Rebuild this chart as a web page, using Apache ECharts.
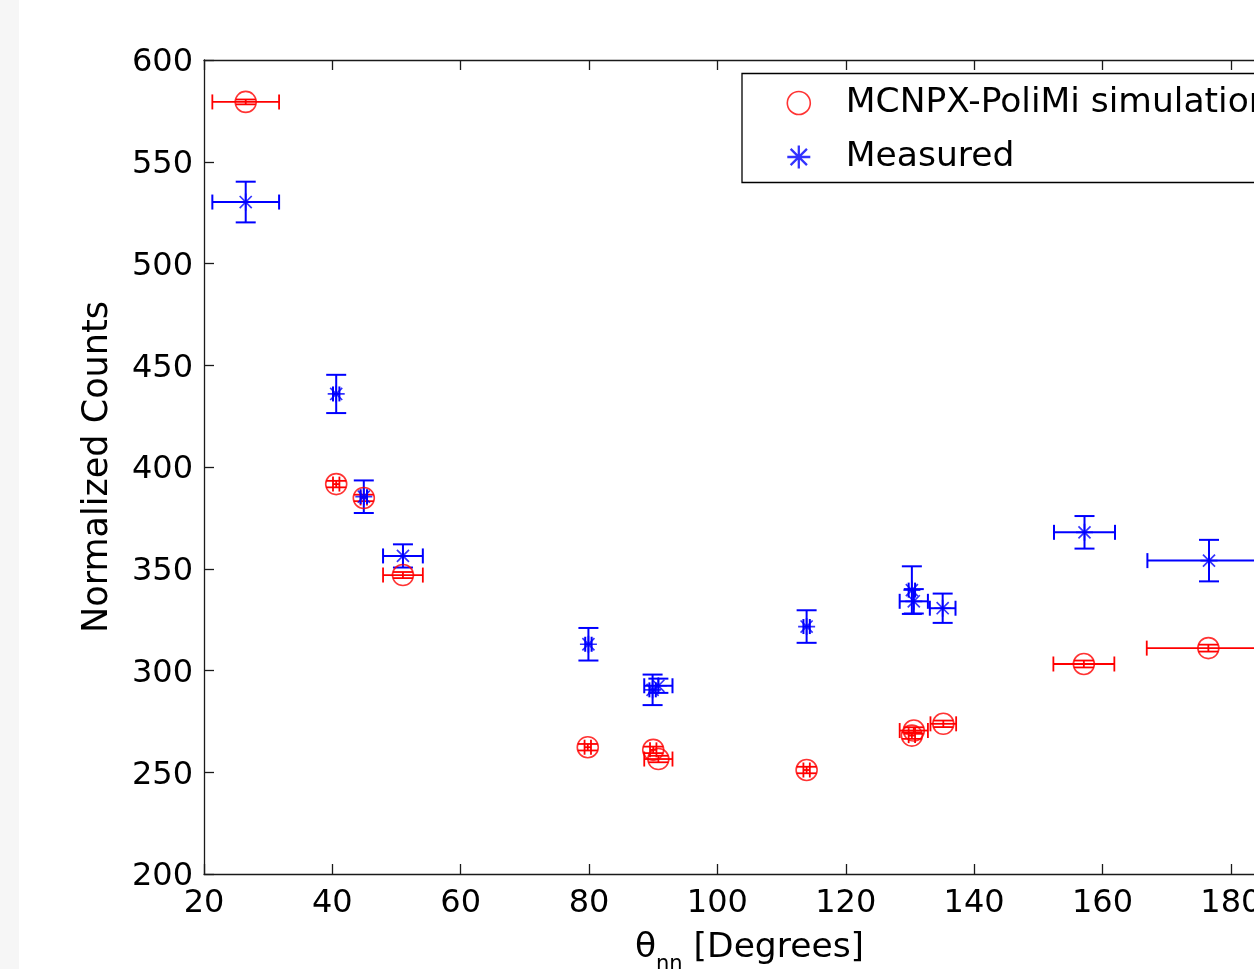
<!DOCTYPE html>
<html>
<head>
<meta charset="utf-8">
<title>Normalized counts vs theta_nn</title>
<script src="https://cdn.jsdelivr.net/npm/echarts@6/dist/echarts.min.js"></script>
<style>
  html, body { margin: 0; padding: 0; background: #fff; }
  #chart { width: 1254px; height: 969px; }
</style>
</head>
<body>
<div id="chart"></div>
<script>
// MCNPX-PoliMi simulation (red circles)
const simTheta = [26.5, 40.6, 44.9, 51.0, 79.8, 90.0, 90.8, 113.9, 130.3, 130.6, 135.2, 157.1, 176.5]
const simCounts = [579.4, 391.6, 384.8, 346.9, 262.3, 261.0, 256.5, 251.1, 268.0, 270.5, 273.8, 303.2, 311.0]
const simThetaErr = [5.2, 0.5, 0.5, 3.1, 0.5, 0.5, 2.2, 0.5, 0.5, 2.2, 2.0, 4.75, 9.6]
const simCountsErr = [1.2, 1.6, 1.6, 1.5, 1.6, 1.6, 1.6, 1.6, 1.6, 1.6, 1.6, 1.7, 1.7]

// Measured (blue asterisks)
const measTheta = [26.5, 40.6, 44.9, 51.0, 79.9, 89.9, 90.8, 113.9, 130.3, 130.6, 135.1, 157.2, 176.6]
const measCounts = [530.2, 435.9, 385.4, 356.3, 312.9, 290.5, 292.5, 321.6, 339.5, 334.0, 330.6, 367.9, 354.0]
const measThetaErr = [5.2, 0.5, 0.5, 3.1, 0.5, 0.5, 2.2, 0.5, 0.5, 2.2, 2.0, 4.75, 9.6]
const measCountsErr = [10, 9.4, 8, 5.7, 8, 7.5, 3.5, 8, 11.7, 6, 7.2, 8, 10.2]

const xTicks = { min: 20, max: 190, interval: 20 }
const yTicks = { min: 200, max: 600, interval: 50 }

const FONT = 'DejaVu Sans'
const AXIS_COLOR = '#1a1a1a'
const RED = '#ff0000'
const BLUE = '#0000ff'

// asterisk made of four bars and a centre dot, all wound the same way
const ASTERISK = 'path://M0 9L20 9L20 11L0 11Z' +
  'M9 0L11 0L11 20L9 20Z' +
  'M3.6 2.2L17.8 16.4L16.4 17.8L2.2 3.6Z' +
  'M16.4 2.2L17.8 3.6L3.6 17.8L2.2 16.4Z' +
  'M7.8 7.8L12.2 7.8L12.2 12.2L7.8 12.2Z'

function zip(xs, ys, dxs, dys) {
  return xs.map((x, i) => [x, ys[i], dxs ? dxs[i] : 0, dys ? dys[i] : 0])
}

function errorBarRenderer(color, width) {
  return function (params, api) {
    const x = api.value(0)
    const y = api.value(1)
    const dx = api.value(2)
    const dy = api.value(3)
    const left = api.coord([x - dx, y])
    const right = api.coord([x + dx, y])
    const top = api.coord([x, y + dy])
    const bottom = api.coord([x, y - dy])
    const capW = 10
    const capH = 7.5
    const seg = (x1, y1, x2, y2) => ({
      type: 'line',
      shape: { x1, y1, x2, y2 },
      style: { stroke: color, lineWidth: width }
    })
    return {
      type: 'group',
      children: [
        seg(left[0], left[1], right[0], right[1]),
        seg(left[0], left[1] - capH, left[0], left[1] + capH),
        seg(right[0], right[1] - capH, right[0], right[1] + capH),
        seg(top[0], top[1], bottom[0], bottom[1]),
        seg(top[0] - capW, top[1], top[0] + capW, top[1]),
        seg(bottom[0] - capW, bottom[1], bottom[0] + capW, bottom[1])
      ]
    }
  }
}

const axisLineStyle = { color: AXIS_COLOR, width: 1.3 }
const labelStyle = { fontFamily: FONT, fontSize: 32, color: '#000' }

const chart = echarts.init(document.getElementById('chart'), null, { renderer: 'canvas' })

const option = {
  animation: false,
  backgroundColor: '#fff',
  graphic: [{
    type: 'rect',
    left: 0,
    top: 0,
    shape: { width: 19, height: 969 },
    style: { fill: '#f6f6f6' },
    silent: true
  }],
  grid: {
    left: 204,
    top: 60,
    width: 1091,
    height: 814,
    outerBoundsMode: 'none'
  },
  legend: {
    orient: 'vertical',
    left: 742,
    top: 73.5,
    padding: [12, 40, 8, 44.5],
    itemGap: 19,
    itemWidth: 23,
    itemHeight: 23,
    backgroundColor: '#fff',
    borderColor: '#000',
    borderWidth: 1.3,
    borderRadius: 0,
    selectedMode: false,
    textStyle: {
      fontFamily: FONT,
      fontSize: 34.5,
      lineHeight: 33,
      color: '#000',
      padding: [0, 0, 0, 30.5]
    },
    data: [
      {
        name: 'MCNPX-PoliMi simulation',
        icon: 'circle',
        itemStyle: { color: 'rgba(0,0,0,0)', borderColor: RED, borderWidth: 1.6 }
      },
      {
        name: 'Measured',
        icon: ASTERISK,
        itemStyle: { color: BLUE, borderWidth: 0 }
      }
    ]
  },
  xAxis: [
    {
      type: 'value',
      position: 'bottom',
      min: xTicks.min,
      max: xTicks.max,
      interval: xTicks.interval,
      axisLine: { show: true, onZero: false, lineStyle: axisLineStyle },
      axisTick: { inside: true, length: 10, lineStyle: axisLineStyle },
      axisLabel: Object.assign({ margin: 14, showMaxLabel: false }, labelStyle),
      splitLine: { show: false },
      name: '{t|θ}{s|nn}{t| [Degrees]}',
      nameLocation: 'middle',
      nameGap: 57,
      nameTextStyle: {
        rich: {
          t: { fontFamily: FONT, fontSize: 34.5, color: '#000', verticalAlign: 'top' },
          s: { fontFamily: FONT, fontSize: 21, color: '#000', verticalAlign: 'top', padding: [23, 0, 0, 0] }
        }
      }
    },
    {
      type: 'value',
      position: 'top',
      min: xTicks.min,
      max: xTicks.max,
      interval: xTicks.interval,
      axisLine: { show: true, onZero: false, lineStyle: axisLineStyle },
      axisTick: { inside: true, length: 10, lineStyle: axisLineStyle },
      axisLabel: { show: false },
      splitLine: { show: false }
    }
  ],
  yAxis: [
    {
      type: 'value',
      position: 'left',
      min: yTicks.min,
      max: yTicks.max,
      interval: yTicks.interval,
      axisLine: { show: true, onZero: false, lineStyle: axisLineStyle },
      axisTick: { inside: true, length: 10, lineStyle: axisLineStyle },
      axisLabel: {
        margin: 11,
        formatter: '{v|{value}}',
        rich: {
          v: Object.assign({ padding: [6, 0, 0, 0] }, labelStyle)
        }
      },
      splitLine: { show: false },
      name: 'Normalized Counts',
      nameLocation: 'middle',
      nameGap: 89,
      nameTextStyle: { fontFamily: FONT, fontSize: 35, color: '#000' }
    },
    {
      type: 'value',
      position: 'right',
      min: yTicks.min,
      max: yTicks.max,
      interval: yTicks.interval,
      axisLine: { show: true, onZero: false, lineStyle: axisLineStyle },
      axisTick: { inside: true, length: 10, lineStyle: axisLineStyle },
      axisLabel: { show: false },
      splitLine: { show: false }
    }
  ],
  series: [
    {
      name: 'sim-errors',
      type: 'custom',
      renderItem: errorBarRenderer(RED, 1.8),
      encode: { x: 0, y: 1 },
      data: zip(simTheta, simCounts, simThetaErr, simCountsErr),
      silent: true,
      z: 2
    },
    {
      name: 'meas-errors',
      type: 'custom',
      renderItem: errorBarRenderer(BLUE, 2),
      encode: { x: 0, y: 1 },
      data: zip(measTheta, measCounts, measThetaErr, measCountsErr),
      silent: true,
      z: 3
    },
    {
      name: 'MCNPX-PoliMi simulation',
      type: 'scatter',
      symbol: 'circle',
      symbolSize: 21,
      itemStyle: { color: 'rgba(0,0,0,0)', borderColor: RED, borderWidth: 1.6 },
      data: zip(simTheta, simCounts).map(d => [d[0], d[1]]),
      z: 4
    },
    {
      name: 'Measured',
      type: 'scatter',
      symbol: ASTERISK,
      symbolSize: 17,
      itemStyle: { color: BLUE },
      data: zip(measTheta, measCounts).map(d => [d[0], d[1]]),
      z: 5
    }
  ]
}

chart.setOption(option)
</script>
</body>
</html>
